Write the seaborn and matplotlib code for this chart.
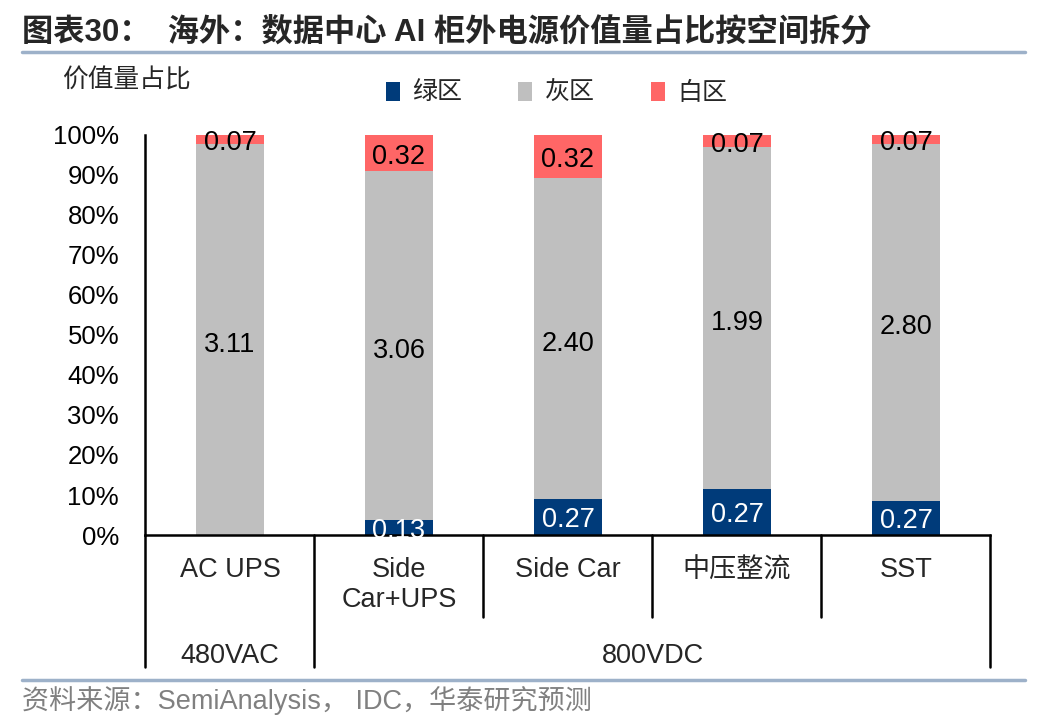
import numpy as np
import pandas as pd
import seaborn as sns
import matplotlib.pyplot as plt
from matplotlib.lines import Line2D
from matplotlib.patches import Patch

# data (value per category)
categories = ["AC UPS", "Side\nCar+UPS", "Side Car", "中压整流", "SST"]
groups = ["480VAC", "800VDC"]
group_span = [(0, 0), (1, 4)]
green = [0.00, 0.13, 0.27, 0.27, 0.27]
grey = [3.11, 3.06, 2.40, 1.99, 2.80]
white = [0.07, 0.32, 0.32, 0.07, 0.07]
series_names = ["绿区", "灰区", "白区"]

c_green = "#003B7A"
c_grey = "#BFBFBF"
c_red = "#FF6666"
c_line = "#9DB1C9"

sns.set_style("white")
plt.rcParams["font.family"] = ["Liberation Sans", "Noto Sans CJK SC", "DejaVu Sans"]

g = np.array(green)
m = np.array(grey)
w = np.array(white)
tot = g + m + w
pg = g / tot * 100
pm = m / tot * 100
pw = w / tot * 100

df = pd.DataFrame({"cat": categories, "g": pg, "gm": pg + pm, "all": pg + pm + pw})

fig = plt.figure(figsize=(10.48, 7.28), dpi=100)
ax = fig.add_axes([0.1388, 0.2651, 0.8063, 0.5495])

# stacked by overlaying cumulative heights
bar_kw = dict(width=0.4, saturation=1, ax=ax, errorbar=None, linewidth=0, edgecolor="none")
sns.barplot(data=df, x="cat", y="all", color=c_red, **bar_kw)
sns.barplot(data=df, x="cat", y="gm", color=c_grey, **bar_kw)
sns.barplot(data=df, x="cat", y="g", color=c_green, **bar_kw)

ax.set_xlim(-0.5, len(categories) - 0.5)
ax.set_ylim(0, 100)
ax.set_yticks(range(0, 101, 10))
ax.set_yticklabels([f"{v}%" for v in range(0, 101, 10)], fontsize=18.5)
ax.set_xlabel("")
ax.set_ylabel("")
ax.tick_params(axis="y", direction="out", length=5, width=1.5, pad=14, colors="black")
ax.tick_params(axis="x", length=0, pad=16, labelsize=19.5)
for lab in ax.get_xticklabels():
    lab.set_linespacing(1.2)
for s in ["top", "right"]:
    ax.spines[s].set_visible(False)
for s in ["left", "bottom"]:
    ax.spines[s].set_linewidth(1.8)
    ax.spines[s].set_color("black")

# value labels
for i in range(len(categories)):
    if g[i] > 0:
        ax.text(i, pg[i] / 2 - 0.8, f"{g[i]:.2f}", ha="center", va="center", fontsize=19.5, color="white")
    ax.text(i, pg[i] + pm[i] / 2 - 1.3, f"{m[i]:.2f}", ha="center", va="center", fontsize=19.5, color="black")
    ax.text(i, pg[i] + pm[i] + pw[i] / 2 - 1.0, f"{w[i]:.2f}", ha="center", va="center", fontsize=19.5, color="black")

# category / group separators below the axis
lw = 1.8
for x in [-0.5, 0.5, 4.5]:
    ax.plot([x, x], [0, -33], color="black", lw=lw, clip_on=False)
for x in [1.5, 2.5, 3.5]:
    ax.plot([x, x], [0, -20.5], color="black", lw=lw, clip_on=False)
for name, (a, b) in zip(groups, group_span):
    ax.text((a + b) / 2, -30.2, name, ha="center", va="center", fontsize=19.5)

# legend
handles = [Patch(facecolor=c, edgecolor="none") for c in [c_green, c_grey, c_red]]
fig.legend(handles, series_names, loc="center", bbox_to_anchor=(0.531, 0.872), ncol=3,
           frameon=False, fontsize=18, handlelength=0.55, handleheight=0.75,
           handletextpad=0.5, columnspacing=2.25)

# title, axis caption, source
fig.text(0.021, 0.955, "图表30：  海外：数据中心 AI 柜外电源价值量占比按空间拆分",
         fontsize=22.5, fontweight="bold", ha="left", va="center",
         family=["Liberation Sans", "Noto Sans CJK SC"])
fig.text(0.059, 0.889, "价值量占比", fontsize=18.5, ha="left", va="center")
fig.text(0.021, 0.038, "资料来源：SemiAnalysis， IDC，华泰研究预测", fontsize=19.5,
         color="#808080", ha="left", va="center")
fig.add_artist(Line2D([0.021, 0.978], [0.928, 0.928], color=c_line, lw=2.5, transform=fig.transFigure))
fig.add_artist(Line2D([0.021, 0.978], [0.066, 0.066], color=c_line, lw=2.5, transform=fig.transFigure))

fig.savefig("out.png", dpi=100)
